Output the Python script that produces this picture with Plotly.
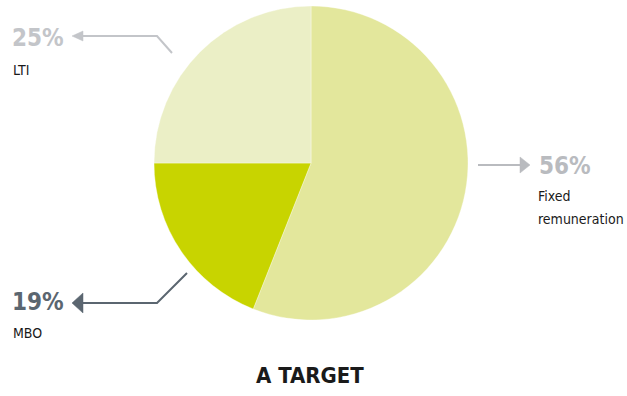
import plotly.graph_objects as go

# Remuneration mix at target
categories = ["Fixed remuneration", "MBO", "LTI"]
shares = [56, 19, 25]
slice_colors = ["#e3e79c", "#c8d400", "#ebefc6"]
label_names = ["Fixed<br>remuneration", "MBO", "LTI"]
title_text = "A TARGET"

W, H = 627, 396
FONT = "DejaVu Sans"
NAME_LINE_STEP = 23  # px between lines of a slice name


def px(x):
    return x / W


def py(y):
    return 1 - y / H


def narrow(text, bold=False):
    # condensed face of the font family, set through inline CSS
    weight = "font-weight:bold;" if bold else ""
    return f'<span style="font-stretch:condensed;{weight}">{text}</span>'


fig = go.Figure(
    go.Pie(
        labels=categories,
        values=shares,
        sort=False,
        direction="clockwise",
        rotation=0,
        marker=dict(colors=slice_colors, line=dict(color="rgba(255,255,255,0.6)", width=0.6)),
        textinfo="none",
        hoverinfo="label+percent",
        showlegend=False,
        domain=dict(x=[px(154), px(468)], y=[py(320), py(6)]),
    )
)

# Callout layout per slice: percent position, first name line position, colour,
# leader path, arrow head
callouts = {
    "Fixed remuneration": dict(
        pct_xy=(537, 166), name_xy=(536, 196), color="#b9bbbf",
        leader=[(478, 165), (521, 165)],
        head=[(520, 157), (530, 165), (520, 173)],
    ),
    "MBO": dict(
        pct_xy=(10, 302), name_xy=(11, 333), color="#5b6670",
        leader=[(187, 273), (157, 303), (82, 303)],
        head=[(83, 293), (72, 303), (83, 313)],
    ),
    "LTI": dict(
        pct_xy=(10, 38), name_xy=(11, 70), color="#c3c5c9",
        leader=[(172, 53), (157, 36), (82, 36)],
        head=[(83, 31), (72, 36), (83, 41)],
    ),
}

shapes = []
annotations = []
for cat, val, name in zip(categories, shares, label_names):
    c = callouts[cat]
    pts = c["leader"]
    path = "M " + " L ".join(f"{px(x)},{py(y)}" for x, y in pts)
    shapes.append(dict(type="path", xref="paper", yref="paper", path=path,
                       line=dict(color=c["color"], width=2)))
    head = "M " + " L ".join(f"{px(x)},{py(y)}" for x, y in c["head"]) + " Z"
    shapes.append(dict(type="path", xref="paper", yref="paper", path=head,
                       fillcolor=c["color"], line=dict(color=c["color"], width=0.5)))
    annotations.append(dict(
        x=px(c["pct_xy"][0]), y=py(c["pct_xy"][1]), xref="paper", yref="paper",
        xanchor="left", yanchor="middle", showarrow=False,
        text=narrow(f"{val}%", bold=True),
        font=dict(family=FONT, size=24, color=c["color"]),
    ))
    nx, ny = c["name_xy"]
    for i, line in enumerate(name.split("<br>")):
        annotations.append(dict(
            x=px(nx), y=py(ny + i * NAME_LINE_STEP), xref="paper", yref="paper",
            xanchor="left", yanchor="middle", align="left", showarrow=False,
            text=narrow(line), font=dict(family=FONT, size=14, color="#1a1a1a"),
        ))

annotations.append(dict(
    x=px(310), y=py(375), xref="paper", yref="paper",
    xanchor="center", yanchor="middle", showarrow=False,
    text=narrow(title_text, bold=True),
    font=dict(family=FONT, size=22, color="#1a1a1a"),
))

fig.update_layout(
    width=W, height=H,
    margin=dict(l=0, r=0, t=0, b=0),
    paper_bgcolor="white", plot_bgcolor="white",
    shapes=shapes, annotations=annotations,
)

fig.write_html("out.html")
